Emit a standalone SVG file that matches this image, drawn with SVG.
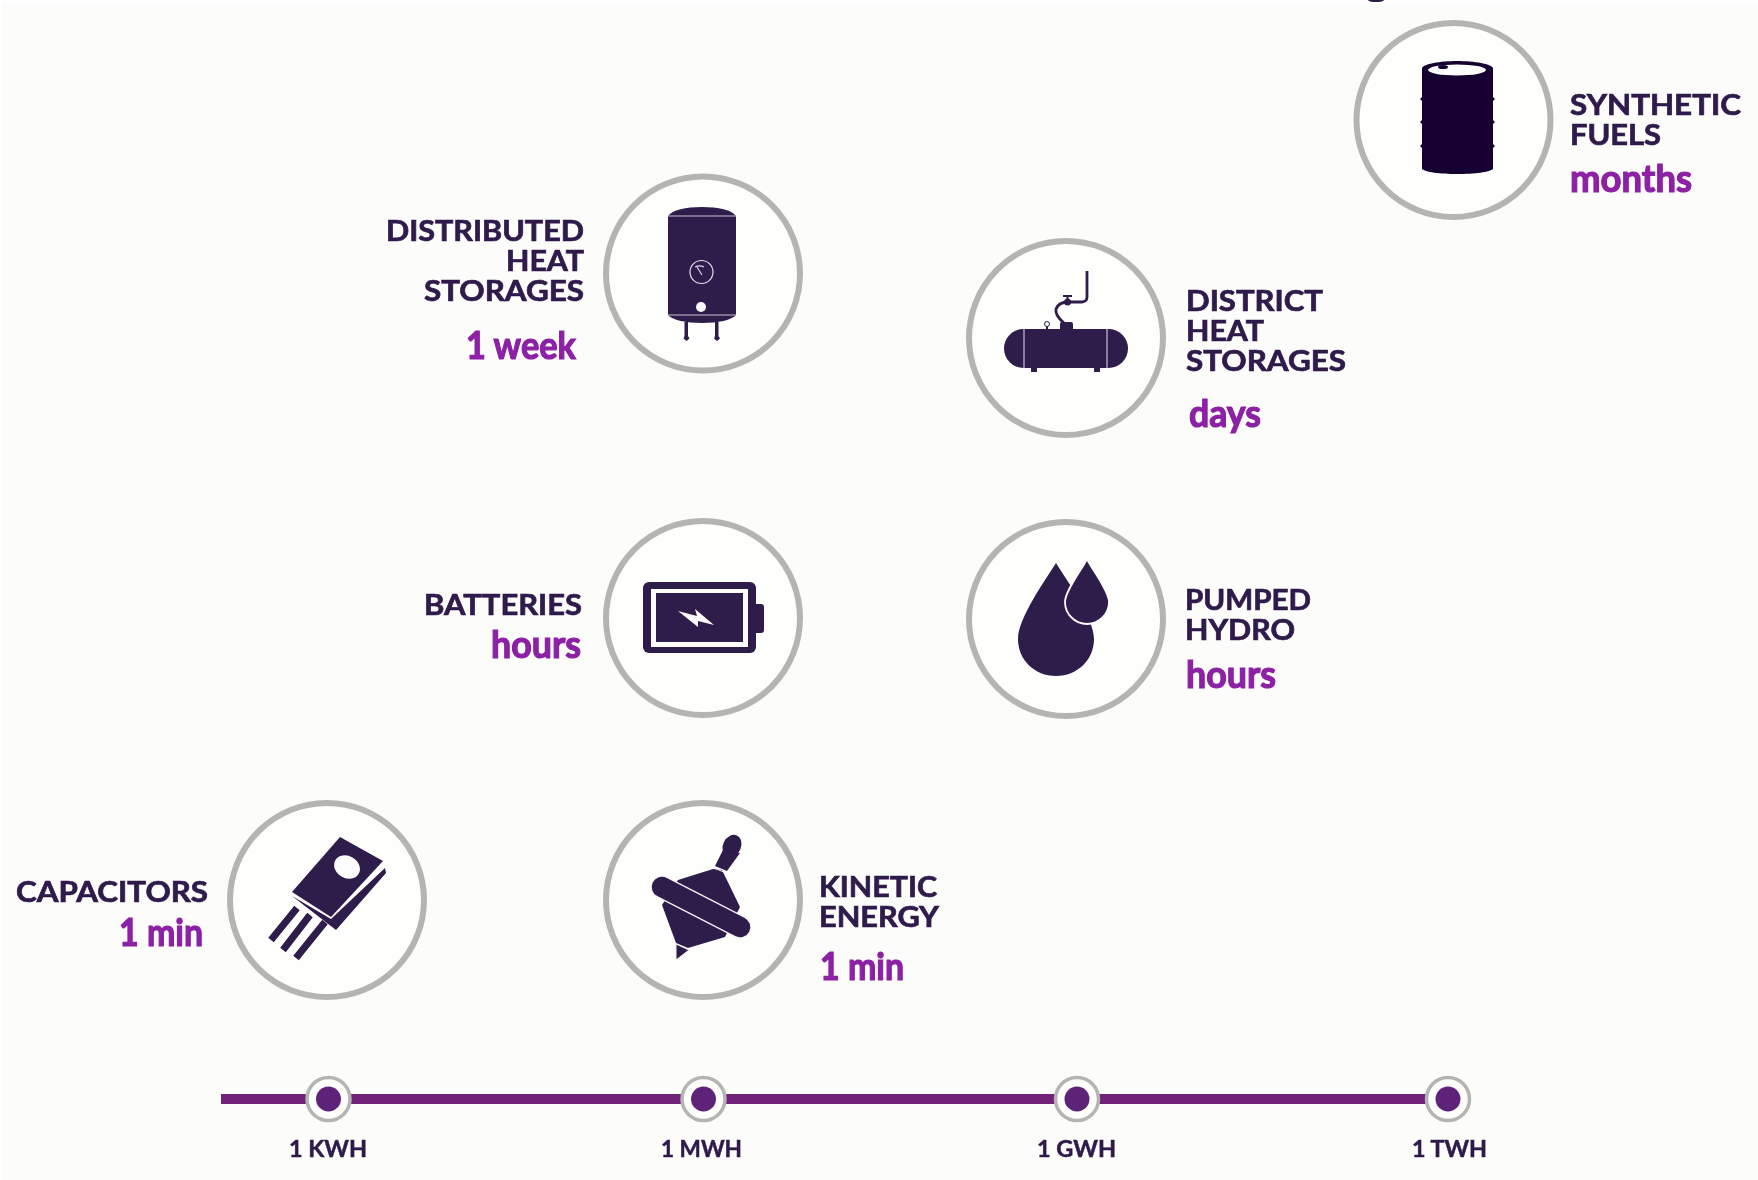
<svg xmlns="http://www.w3.org/2000/svg" width="1758" height="1180" viewBox="0 0 1758 1180">
<defs><filter id="soft" x="-5%" y="-5%" width="110%" height="110%"><feGaussianBlur stdDeviation="0.55"/></filter></defs>
<style>
.ring{fill:#fefefd;stroke:#b4b4b2;stroke-width:6}
.ic{fill:#2f1a4b}
.hl{stroke:#c9c2d2;stroke-width:1.2;fill:none}
.t{font-family:Lato,"Open Sans",sans-serif;font-weight:700;font-size:28.5px;fill:#2f1a4b;stroke:#2f1a4b;stroke-width:.7px}
.d{font-family:Lato,"Open Sans",sans-serif;font-weight:700;font-size:38.5px;fill:#8c20a4;stroke:#8c20a4;stroke-width:1.2px}
.a{font-family:Lato,"Open Sans",sans-serif;font-weight:700;font-size:22.5px;fill:#2f1a4b;stroke:#2f1a4b;stroke-width:.5px}
.tick{fill:#fdfdfc;stroke:#b4b4b2;stroke-width:3.5}
.dot{fill:#5e2479}
.s{filter:url(#soft)}
</style>
<rect width="1758" height="1180" fill="#ffffff"/>
<rect x="2" y="3" width="1756" height="1177" fill="#fcfcfa"/>
<ellipse cx="1376" cy="0" rx="8" ry="2" fill="#2f1a4b"/>

<g id="connectors" class="s">
<rect x="221" y="1094" width="1210" height="10" fill="#6f2178"/>
</g>

<g id="synthetic-fuels" class="s">
<circle class="ring" cx="1453.5" cy="120" r="97"/>
<path fill="#160433" d="M1422 68C1424 64 1440 61 1457 61C1475 61 1491 64 1493 68V97L1495 99L1493 101V120L1495 122L1493 124V144L1495 146L1493 148V169C1490 172 1475 174 1457 174C1440 174 1425 172 1422 169V148L1420 146L1422 144V124L1420 122L1422 120V101L1420 99L1422 97Z"/>
<ellipse cx="1457" cy="70" rx="29" ry="5.5" fill="#fdfdfd"/>
<ellipse cx="1443" cy="67" rx="5" ry="2" fill="#160433"/>
<text class="t" x="1570" y="115" textLength="171" lengthAdjust="spacingAndGlyphs">SYNTHETIC</text>
<text class="t" x="1570" y="145" textLength="91" lengthAdjust="spacingAndGlyphs">FUELS</text>
<text class="d" x="1570" y="192" textLength="122" lengthAdjust="spacingAndGlyphs">months</text>
</g>

<g id="distributed-heat-storages" class="s">
<circle class="ring" cx="703" cy="273.5" r="97"/>
<path class="ic" d="M668 216C672 210 686 207 702 207C718 207 732 210 736 216V315C732 320 718 323 702 323C686 323 672 320 668 315Z"/>
<path class="hl" d="M668 216H736M668 315H736"/>
<path class="ic" d="M684.500 322H688V336L689.500 338.500L686.500 341L683.500 338.500L684.500 336ZM715 322H718.500V336L720 338.500L717 341L714 338.500L715 336Z"/>
<circle cx="701.500" cy="272" r="11.500" fill="none" stroke="#e3dfe8" stroke-width="1.200"/>
<path d="M695 267A10 10 0 0 1 704 267M697 267L702 275" fill="none" stroke="#e3dfe8" stroke-width="1.100"/>
<circle cx="701" cy="307" r="5" fill="#fdfdfd"/>
<text class="t" x="584" y="240.500" text-anchor="end" textLength="198" lengthAdjust="spacingAndGlyphs">DISTRIBUTED</text>
<text class="t" x="584" y="270.500" text-anchor="end" textLength="78" lengthAdjust="spacingAndGlyphs">HEAT</text>
<text class="t" x="584" y="301" text-anchor="end" textLength="160" lengthAdjust="spacingAndGlyphs">STORAGES</text>
<text class="d" x="576" y="358.500" text-anchor="end" textLength="110" lengthAdjust="spacingAndGlyphs">1 week</text>
</g>

<g id="district-heat-storages" class="s">
<circle class="ring" cx="1066" cy="338" r="97"/>
<rect class="ic" x="1004" y="329" width="124" height="39" rx="19.500"/>
<path class="hl" d="M1024 329V368M1107 329V368"/>
<path class="ic" d="M1031 367H1037V372H1031ZM1094 367H1100V372H1094ZM1060 324Q1060 322 1062 322H1071Q1073 322 1073 324V330H1060ZM1046 324H1048V330H1046Z"/>
<circle cx="1047" cy="324" r="2.500" fill="#fdfdfd" stroke="#2f1a4b" stroke-width="1"/>
<path d="M1064 323C1058 318 1055 314 1056 309C1058 304 1062 302 1068 302H1082C1085 302 1087 300 1087 297V271" fill="none" stroke="#2f1a4b" stroke-width="2.800"/>
<circle cx="1067.500" cy="302" r="3.500" fill="#2f1a4b"/>
<path d="M1067.500 302V296M1063 296H1072" fill="none" stroke="#2f1a4b" stroke-width="2"/>
<text class="t" x="1186" y="311" textLength="137" lengthAdjust="spacingAndGlyphs">DISTRICT</text>
<text class="t" x="1186" y="341" textLength="78" lengthAdjust="spacingAndGlyphs">HEAT</text>
<text class="t" x="1186" y="371" textLength="160" lengthAdjust="spacingAndGlyphs">STORAGES</text>
<text class="d" x="1189" y="427" textLength="72" lengthAdjust="spacingAndGlyphs">days</text>
</g>

<g id="batteries" class="s">
<circle class="ring" cx="703" cy="618" r="97"/>
<rect class="ic" x="643" y="582" width="113" height="71" rx="6"/>
<rect x="651" y="589" width="97" height="58" fill="#fdfdfd"/>
<rect class="ic" x="656" y="593" width="87" height="49"/>
<path class="ic" d="M756 604H761C763 604 764 605 764 607V630C764 632 763 633 761 633H756Z"/>
<path fill="#fdfdfd" d="M678 611L697 616L695 609L714 625L698 621L698 627Z"/>
<text class="t" x="582" y="615" text-anchor="end" textLength="158" lengthAdjust="spacingAndGlyphs">BATTERIES</text>
<text class="d" x="581" y="657.500" text-anchor="end" textLength="90" lengthAdjust="spacingAndGlyphs">hours</text>
</g>

<g id="pumped-hydro" class="s">
<circle class="ring" cx="1066" cy="619" r="97"/>
<path class="ic" d="M1056 563C1066 579 1094 618 1094 639C1094 660 1077 676 1056 676C1035 676 1018 660 1018 639C1018 618 1046 579 1056 563Z"/>
<path class="ic" stroke="#fdfdfd" stroke-width="1.800" d="M1087 559C1093 571 1109 591 1109 602C1109 614 1099 624 1087 624C1075 624 1065 614 1065 602C1065 591 1081 571 1087 559Z"/>
<text class="t" x="1185" y="610" textLength="126" lengthAdjust="spacingAndGlyphs">PUMPED</text>
<text class="t" x="1185" y="640" textLength="110" lengthAdjust="spacingAndGlyphs">HYDRO</text>
<text class="d" x="1186" y="687.500" textLength="90" lengthAdjust="spacingAndGlyphs">hours</text>
</g>

<g id="capacitors" class="s">
<circle class="ring" cx="327" cy="900" r="97"/>
<path d="M297 908L271 940M310 915L283 950M325 922L296 958" fill="none" stroke="#2f1a4b" stroke-width="7"/>
<path class="ic" d="M292 896L331 919L385 868L386 873L336 930Z"/>
<path class="ic" d="M340 837L383 861L331 917L292 892Z"/>
<ellipse cx="347" cy="867" rx="13.500" ry="11" transform="rotate(30 347 867)" fill="#fdfdfd"/>
<text class="t" x="16" y="902" textLength="192" lengthAdjust="spacingAndGlyphs">CAPACITORS</text>
<text class="d" x="203" y="946" text-anchor="end" textLength="84" lengthAdjust="spacingAndGlyphs">1 min</text>
</g>

<g id="kinetic-energy" class="s">
<circle class="ring" cx="703" cy="900" r="97"/>
<ellipse class="ic" cx="732" cy="846" rx="9" ry="11.500" transform="rotate(25 732 846)"/>
<path class="ic" d="M723 850L740 853L727 871L715 866Z"/>
<path class="ic" d="M713 869L722 870L740 907L725 937L688 948L676 943L662 905L678 880Z"/>
<path d="M714 868L726 873" stroke="#f4f2f6" stroke-width="1"/>
<path d="M662 887L740 927" stroke="#f4f2f6" stroke-width="23" stroke-linecap="round"/>
<path d="M662 887L740 927" stroke="#2f1a4b" stroke-width="20.500" stroke-linecap="round"/>
<path class="ic" stroke="#f4f2f6" stroke-width="1" d="M676 944L689 950L676 960Z"/>
<text class="t" x="819" y="897" textLength="118" lengthAdjust="spacingAndGlyphs">KINETIC</text>
<text class="t" x="819" y="927" textLength="120" lengthAdjust="spacingAndGlyphs">ENERGY</text>
<text class="d" x="820" y="979.500" textLength="84" lengthAdjust="spacingAndGlyphs">1 min</text>
</g>

<g id="tick-1kwh" class="s">
<circle class="tick" cx="328.500" cy="1099" r="21.500"/><circle class="dot" cx="328.500" cy="1099" r="12.500"/>
<text class="a" x="289" y="1157" textLength="78" lengthAdjust="spacingAndGlyphs">1 KWH</text>
</g>
<g id="tick-1mwh" class="s">
<circle class="tick" cx="703.500" cy="1099" r="21.500"/><circle class="dot" cx="703.500" cy="1099" r="12.500"/>
<text class="a" x="661" y="1157" textLength="81" lengthAdjust="spacingAndGlyphs">1 MWH</text>
</g>
<g id="tick-1gwh" class="s">
<circle class="tick" cx="1077" cy="1099" r="21.500"/><circle class="dot" cx="1077" cy="1099" r="12.500"/>
<text class="a" x="1037" y="1157" textLength="79" lengthAdjust="spacingAndGlyphs">1 GWH</text>
</g>
<g id="tick-1twh" class="s">
<circle class="tick" cx="1448" cy="1099" r="21.500"/><circle class="dot" cx="1448" cy="1099" r="12.500"/>
<text class="a" x="1412" y="1157" textLength="75" lengthAdjust="spacingAndGlyphs">1 TWH</text>
</g>
</svg>
